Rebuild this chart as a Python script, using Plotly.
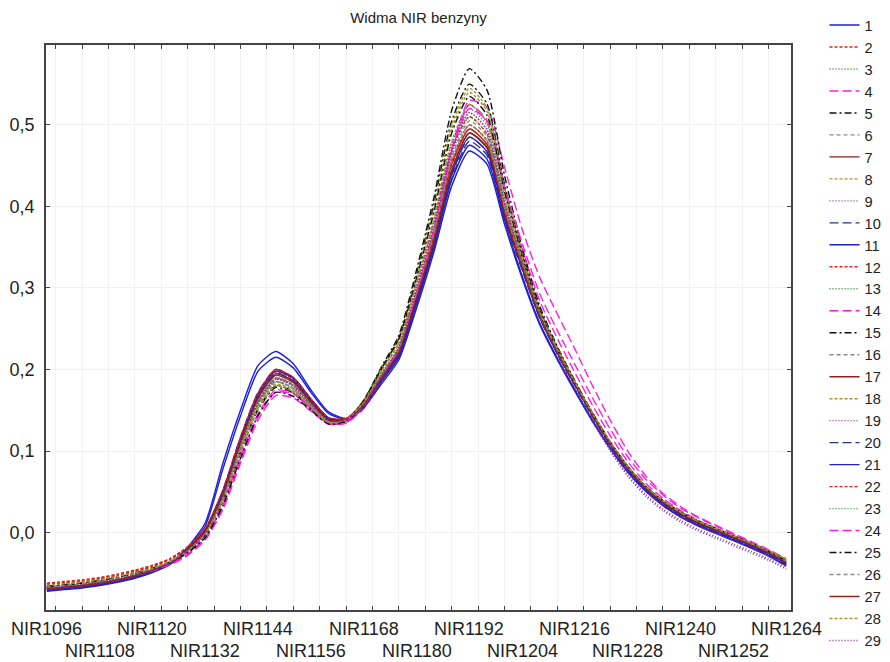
import plotly.graph_objects as go

# długości fali (co 4 nm)
wavelengths = list(range(1096, 1268, 4))

# etykiety osi X (co 12 nm, dwa rzędy)
label_vals = list(range(1096, 1268, 12))

# linie siatki / znaczniki osi X
grid_vals = list(range(1098, 1262, 6))

# widma 1..29
s01 = [-0.071, -0.069, -0.067, -0.064, -0.060, -0.055, -0.048, -0.038, -0.018, 0.012, 0.085, 0.150, 0.205, 0.222, 0.207, 0.175, 0.148, 0.140, 0.153, 0.182, 0.212, 0.275, 0.345, 0.425, 0.468, 0.452, 0.378, 0.312, 0.255, 0.212, 0.173, 0.136, 0.103, 0.074, 0.051, 0.033, 0.019, 0.008, -0.001, -0.010, -0.019, -0.029, -0.041]
s02 = [-0.063, -0.061, -0.059, -0.056, -0.052, -0.047, -0.041, -0.032, -0.018, 0.003, 0.046, 0.108, 0.161, 0.189, 0.181, 0.158, 0.137, 0.139, 0.161, 0.198, 0.233, 0.305, 0.382, 0.470, 0.510, 0.489, 0.403, 0.332, 0.269, 0.224, 0.184, 0.146, 0.111, 0.081, 0.057, 0.039, 0.025, 0.014, 0.005, -0.004, -0.013, -0.022, -0.033]
s03 = [-0.067, -0.065, -0.063, -0.060, -0.056, -0.051, -0.045, -0.036, -0.022, -0.001, 0.042, 0.104, 0.157, 0.185, 0.176, 0.155, 0.136, 0.138, 0.158, 0.193, 0.226, 0.294, 0.368, 0.456, 0.500, 0.480, 0.397, 0.328, 0.267, 0.223, 0.183, 0.145, 0.110, 0.080, 0.056, 0.038, 0.024, 0.013, 0.004, -0.005, -0.014, -0.024, -0.036]
s04 = [-0.069, -0.067, -0.065, -0.062, -0.058, -0.053, -0.047, -0.039, -0.027, -0.008, 0.030, 0.088, 0.142, 0.172, 0.170, 0.152, 0.134, 0.135, 0.153, 0.186, 0.220, 0.290, 0.370, 0.470, 0.530, 0.522, 0.448, 0.372, 0.313, 0.268, 0.225, 0.180, 0.138, 0.100, 0.070, 0.048, 0.032, 0.019, 0.009, -0.001, -0.011, -0.021, -0.032]
s05 = [-0.066, -0.064, -0.062, -0.059, -0.055, -0.050, -0.044, -0.036, -0.023, -0.003, 0.038, 0.098, 0.152, 0.180, 0.173, 0.153, 0.135, 0.137, 0.162, 0.203, 0.242, 0.322, 0.412, 0.518, 0.569, 0.543, 0.438, 0.350, 0.278, 0.228, 0.186, 0.147, 0.111, 0.081, 0.057, 0.039, 0.025, 0.014, 0.005, -0.004, -0.013, -0.023, -0.035]
s06 = [-0.068, -0.066, -0.064, -0.061, -0.057, -0.052, -0.046, -0.037, -0.022, 0.000, 0.044, 0.107, 0.160, 0.188, 0.180, 0.157, 0.137, 0.138, 0.157, 0.191, 0.224, 0.291, 0.362, 0.448, 0.490, 0.472, 0.391, 0.325, 0.265, 0.221, 0.182, 0.144, 0.109, 0.079, 0.055, 0.037, 0.023, 0.012, 0.003, -0.006, -0.015, -0.025, -0.037]
s07 = [-0.069, -0.067, -0.065, -0.062, -0.058, -0.053, -0.046, -0.037, -0.021, 0.002, 0.048, 0.112, 0.166, 0.195, 0.186, 0.161, 0.139, 0.139, 0.158, 0.192, 0.225, 0.292, 0.365, 0.452, 0.495, 0.476, 0.394, 0.327, 0.266, 0.222, 0.182, 0.144, 0.109, 0.079, 0.055, 0.037, 0.023, 0.012, 0.003, -0.006, -0.015, -0.025, -0.037]
s08 = [-0.065, -0.063, -0.061, -0.058, -0.054, -0.049, -0.043, -0.035, -0.021, 0.000, 0.042, 0.104, 0.157, 0.185, 0.177, 0.155, 0.136, 0.139, 0.162, 0.201, 0.238, 0.313, 0.398, 0.495, 0.540, 0.517, 0.421, 0.341, 0.273, 0.226, 0.185, 0.146, 0.111, 0.081, 0.057, 0.039, 0.025, 0.014, 0.005, -0.004, -0.013, -0.022, -0.034]
s09 = [-0.068, -0.066, -0.064, -0.061, -0.057, -0.052, -0.046, -0.037, -0.022, 0.000, 0.045, 0.108, 0.162, 0.190, 0.181, 0.158, 0.137, 0.138, 0.158, 0.193, 0.227, 0.298, 0.375, 0.468, 0.515, 0.494, 0.404, 0.330, 0.265, 0.218, 0.176, 0.136, 0.100, 0.069, 0.045, 0.027, 0.013, 0.002, -0.007, -0.016, -0.025, -0.034, -0.045]
s10 = [-0.070, -0.068, -0.066, -0.063, -0.059, -0.054, -0.047, -0.037, -0.020, 0.004, 0.052, 0.117, 0.172, 0.200, 0.190, 0.164, 0.140, 0.137, 0.154, 0.186, 0.217, 0.281, 0.352, 0.438, 0.485, 0.467, 0.388, 0.324, 0.264, 0.220, 0.181, 0.143, 0.108, 0.078, 0.054, 0.036, 0.022, 0.011, 0.002, -0.007, -0.016, -0.026, -0.038]
s11 = [-0.070, -0.068, -0.066, -0.063, -0.059, -0.054, -0.047, -0.037, -0.019, 0.008, 0.078, 0.143, 0.198, 0.215, 0.202, 0.172, 0.146, 0.139, 0.154, 0.185, 0.215, 0.280, 0.350, 0.432, 0.475, 0.458, 0.383, 0.315, 0.257, 0.214, 0.175, 0.138, 0.104, 0.075, 0.052, 0.034, 0.020, 0.009, 0.000, -0.009, -0.018, -0.028, -0.040]
s12 = [-0.064, -0.062, -0.060, -0.057, -0.053, -0.048, -0.042, -0.033, -0.018, 0.004, 0.050, 0.114, 0.168, 0.197, 0.188, 0.162, 0.140, 0.140, 0.159, 0.193, 0.226, 0.294, 0.368, 0.456, 0.500, 0.481, 0.398, 0.329, 0.268, 0.223, 0.183, 0.145, 0.110, 0.080, 0.056, 0.038, 0.024, 0.013, 0.004, -0.005, -0.014, -0.023, -0.034]
s13 = [-0.067, -0.065, -0.063, -0.060, -0.056, -0.051, -0.045, -0.037, -0.024, -0.003, 0.039, 0.099, 0.152, 0.180, 0.173, 0.153, 0.135, 0.137, 0.160, 0.198, 0.233, 0.306, 0.385, 0.478, 0.520, 0.499, 0.409, 0.335, 0.270, 0.224, 0.184, 0.146, 0.111, 0.081, 0.057, 0.039, 0.025, 0.014, 0.005, -0.004, -0.013, -0.023, -0.035]
s14 = [-0.070, -0.068, -0.066, -0.063, -0.059, -0.054, -0.048, -0.040, -0.028, -0.009, 0.028, 0.085, 0.138, 0.168, 0.165, 0.149, 0.133, 0.134, 0.152, 0.186, 0.220, 0.291, 0.370, 0.467, 0.525, 0.506, 0.420, 0.348, 0.284, 0.238, 0.196, 0.156, 0.119, 0.087, 0.061, 0.042, 0.027, 0.015, 0.005, -0.004, -0.014, -0.024, -0.036]
s15 = [-0.066, -0.064, -0.062, -0.059, -0.055, -0.050, -0.044, -0.036, -0.023, -0.002, 0.039, 0.099, 0.151, 0.178, 0.171, 0.152, 0.134, 0.136, 0.161, 0.201, 0.239, 0.317, 0.404, 0.505, 0.550, 0.526, 0.427, 0.344, 0.275, 0.227, 0.185, 0.146, 0.111, 0.081, 0.057, 0.039, 0.025, 0.014, 0.005, -0.004, -0.013, -0.023, -0.035]
s16 = [-0.067, -0.065, -0.063, -0.060, -0.056, -0.051, -0.045, -0.036, -0.021, 0.001, 0.046, 0.109, 0.162, 0.190, 0.182, 0.159, 0.138, 0.139, 0.159, 0.194, 0.227, 0.296, 0.371, 0.461, 0.505, 0.486, 0.401, 0.331, 0.269, 0.224, 0.184, 0.146, 0.111, 0.081, 0.057, 0.039, 0.025, 0.014, 0.005, -0.004, -0.013, -0.023, -0.035]
s17 = [-0.070, -0.068, -0.066, -0.063, -0.059, -0.054, -0.047, -0.037, -0.020, 0.004, 0.051, 0.116, 0.171, 0.200, 0.190, 0.164, 0.141, 0.139, 0.156, 0.189, 0.220, 0.286, 0.357, 0.444, 0.490, 0.472, 0.391, 0.325, 0.265, 0.221, 0.182, 0.144, 0.109, 0.079, 0.055, 0.037, 0.023, 0.012, 0.003, -0.006, -0.015, -0.025, -0.037]
s18 = [-0.065, -0.063, -0.061, -0.058, -0.054, -0.050, -0.044, -0.036, -0.023, -0.002, 0.039, 0.099, 0.152, 0.180, 0.173, 0.153, 0.135, 0.138, 0.162, 0.201, 0.238, 0.314, 0.400, 0.500, 0.545, 0.521, 0.424, 0.342, 0.274, 0.227, 0.185, 0.146, 0.111, 0.081, 0.057, 0.039, 0.025, 0.014, 0.005, -0.004, -0.013, -0.022, -0.033]
s19 = [-0.068, -0.066, -0.064, -0.061, -0.057, -0.052, -0.046, -0.037, -0.023, -0.001, 0.043, 0.104, 0.157, 0.185, 0.177, 0.155, 0.136, 0.138, 0.158, 0.194, 0.228, 0.301, 0.380, 0.476, 0.525, 0.503, 0.412, 0.334, 0.267, 0.220, 0.179, 0.140, 0.105, 0.075, 0.051, 0.033, 0.019, 0.008, -0.001, -0.010, -0.019, -0.029, -0.041]
s20 = [-0.071, -0.069, -0.067, -0.064, -0.060, -0.055, -0.048, -0.038, -0.022, 0.001, 0.047, 0.112, 0.166, 0.195, 0.186, 0.161, 0.139, 0.137, 0.153, 0.185, 0.216, 0.280, 0.350, 0.434, 0.480, 0.463, 0.385, 0.322, 0.263, 0.219, 0.180, 0.142, 0.107, 0.077, 0.053, 0.035, 0.021, 0.010, 0.001, -0.008, -0.017, -0.027, -0.039]
s21 = [-0.072, -0.070, -0.068, -0.065, -0.061, -0.056, -0.049, -0.039, -0.022, 0.002, 0.050, 0.115, 0.169, 0.198, 0.189, 0.163, 0.140, 0.138, 0.155, 0.188, 0.219, 0.284, 0.355, 0.440, 0.485, 0.467, 0.388, 0.324, 0.264, 0.220, 0.181, 0.143, 0.108, 0.078, 0.054, 0.036, 0.022, 0.011, 0.002, -0.007, -0.016, -0.026, -0.038]
s22 = [-0.062, -0.060, -0.058, -0.055, -0.051, -0.046, -0.040, -0.032, -0.017, 0.005, 0.052, 0.117, 0.171, 0.200, 0.190, 0.164, 0.141, 0.140, 0.158, 0.192, 0.225, 0.292, 0.365, 0.452, 0.495, 0.476, 0.394, 0.327, 0.266, 0.222, 0.182, 0.144, 0.109, 0.079, 0.055, 0.037, 0.023, 0.012, 0.003, -0.006, -0.015, -0.024, -0.035]
s23 = [-0.067, -0.065, -0.063, -0.060, -0.056, -0.051, -0.045, -0.036, -0.022, 0.000, 0.044, 0.107, 0.160, 0.188, 0.180, 0.157, 0.137, 0.138, 0.158, 0.193, 0.227, 0.297, 0.373, 0.464, 0.510, 0.489, 0.403, 0.332, 0.269, 0.224, 0.184, 0.146, 0.111, 0.081, 0.057, 0.039, 0.025, 0.014, 0.005, -0.004, -0.013, -0.023, -0.035]
s24 = [-0.069, -0.067, -0.065, -0.062, -0.058, -0.053, -0.047, -0.039, -0.026, -0.006, 0.034, 0.093, 0.146, 0.175, 0.171, 0.152, 0.134, 0.136, 0.155, 0.190, 0.224, 0.295, 0.374, 0.470, 0.520, 0.505, 0.424, 0.355, 0.293, 0.248, 0.206, 0.165, 0.127, 0.093, 0.066, 0.046, 0.030, 0.018, 0.008, -0.002, -0.012, -0.022, -0.034]
s25 = [-0.066, -0.064, -0.062, -0.059, -0.055, -0.050, -0.045, -0.037, -0.025, -0.006, 0.033, 0.091, 0.144, 0.172, 0.167, 0.150, 0.133, 0.137, 0.162, 0.201, 0.238, 0.312, 0.394, 0.490, 0.535, 0.512, 0.418, 0.339, 0.272, 0.225, 0.184, 0.146, 0.111, 0.081, 0.057, 0.039, 0.025, 0.014, 0.005, -0.004, -0.013, -0.023, -0.035]
s26 = [-0.067, -0.065, -0.063, -0.060, -0.056, -0.051, -0.045, -0.036, -0.022, -0.001, 0.043, 0.104, 0.157, 0.185, 0.177, 0.155, 0.136, 0.138, 0.158, 0.193, 0.226, 0.294, 0.368, 0.456, 0.500, 0.481, 0.397, 0.328, 0.267, 0.223, 0.183, 0.145, 0.110, 0.080, 0.056, 0.038, 0.024, 0.013, 0.004, -0.005, -0.014, -0.024, -0.036]
s27 = [-0.069, -0.067, -0.065, -0.062, -0.058, -0.053, -0.046, -0.037, -0.021, 0.002, 0.047, 0.111, 0.165, 0.193, 0.184, 0.160, 0.138, 0.138, 0.156, 0.189, 0.221, 0.287, 0.358, 0.444, 0.490, 0.472, 0.391, 0.325, 0.265, 0.221, 0.182, 0.144, 0.109, 0.079, 0.055, 0.037, 0.023, 0.012, 0.003, -0.006, -0.015, -0.025, -0.037]
s28 = [-0.065, -0.063, -0.061, -0.058, -0.054, -0.049, -0.044, -0.036, -0.022, -0.001, 0.041, 0.102, 0.155, 0.182, 0.175, 0.154, 0.135, 0.138, 0.160, 0.197, 0.232, 0.306, 0.386, 0.480, 0.525, 0.503, 0.412, 0.337, 0.271, 0.225, 0.184, 0.146, 0.111, 0.081, 0.057, 0.039, 0.025, 0.014, 0.005, -0.004, -0.013, -0.022, -0.033]
s29 = [-0.068, -0.066, -0.064, -0.061, -0.057, -0.052, -0.046, -0.037, -0.022, 0.000, 0.044, 0.107, 0.160, 0.188, 0.180, 0.157, 0.137, 0.138, 0.158, 0.193, 0.227, 0.298, 0.375, 0.468, 0.515, 0.494, 0.404, 0.331, 0.266, 0.219, 0.177, 0.138, 0.102, 0.071, 0.047, 0.029, 0.015, 0.004, -0.005, -0.014, -0.023, -0.032, -0.043]

series = [s01, s02, s03, s04, s05, s06, s07, s08, s09, s10,
          s11, s12, s13, s14, s15, s16, s17, s18, s19, s20,
          s21, s22, s23, s24, s25, s26, s27, s28, s29]

# styl linii powtarza się co 10 serii
colors = ["#1f1fd6", "#e8201a", "#2a8a2a", "#ff1fe0", "#111111",
          "#8a8a8a", "#8b2020", "#9a9a30", "#8a2a9a", "#303080"]
dashes = ["solid", "3px,2px", "1px,2px", "9px,4px", "7px,3px,2px,3px",
          "4px,3px", "solid", "3px,2px", "1px,2px", "9px,4px"]

fig = go.Figure()

for i, ys in enumerate(series):
    k = i % 10
    fig.add_trace(go.Scatter(
        x=wavelengths, y=ys,
        mode="lines",
        name=str(i + 1),
        line=dict(color=colors[k], width=1.4, dash=dashes[k], shape="spline", smoothing=0.6),
    ))

# etykiety osi X w dwóch rzędach (naprzemiennie)
for i, v in enumerate(label_vals):
    fig.add_annotation(
        x=v, xref="x", y=0.045 if i % 2 == 0 else 0.0115, yref="paper",
        text="NIR%d" % v, showarrow=False, xanchor="center", yanchor="middle",
        font=dict(size=18, color="#222222"),
    )

axis_col = "#444444"

# strona ma margines 8 px, więc figura jest o 8 px mniejsza
fig.update_layout(
    width=882, height=654,
    margin=dict(l=38, r=99, t=4, b=4, autoexpand=False),
    paper_bgcolor="white", plot_bgcolor="white",
    separators=", ",
    font=dict(family="Liberation Sans, Arial, sans-serif", size=18, color="#222222"),
    title=dict(text="Widma NIR benzyny", x=0.5, xref="paper", y=0.985, yanchor="middle",
               font=dict(size=15, color="#222222")),
    showlegend=True,
    legend=dict(x=1.045, y=1.0046, xanchor="left", yanchor="top", maxheight=1.0,
                font=dict(size=14.6, color="#222222"), itemwidth=30,
                tracegroupgap=0, bgcolor="rgba(0,0,0,0)"),
    xaxis=dict(range=[1095.8, 1265.1], tickmode="array", tickvals=grid_vals,
               showticklabels=False, ticks="inside", ticklen=4, tickcolor=axis_col,
               showgrid=True, gridcolor="#f3f3f3", zeroline=False, showline=True,
               linecolor=axis_col, linewidth=1.5, mirror="ticks"),
    yaxis=dict(domain=[0.0743, 0.9489], range=[-0.095, 0.598], dtick=0.1, tick0=0,
               tickformat=".1f", ticks="inside", ticklen=4, tickcolor=axis_col,
               showgrid=True, gridcolor="#f0f0f0", zeroline=False,
               showline=True, linecolor=axis_col, linewidth=1.5, mirror="ticks",
               ticklabelstandoff=6),
)

fig.write_html("out.html")
